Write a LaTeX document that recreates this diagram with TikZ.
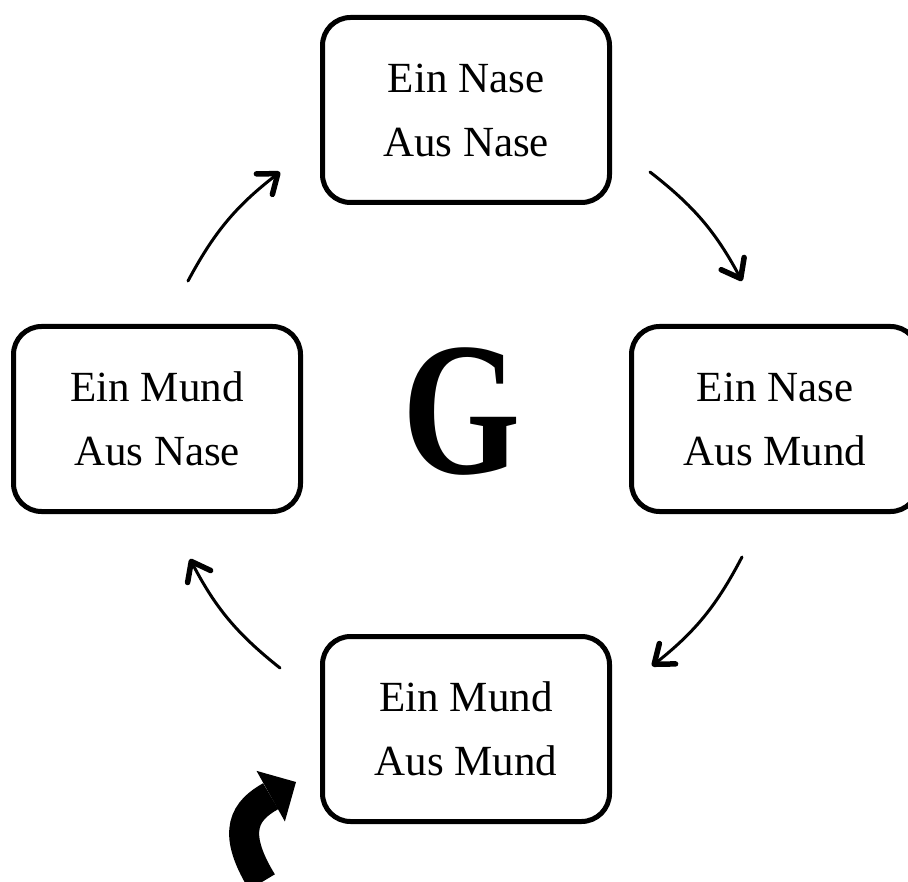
\documentclass[tikz,border=0pt]{standalone}
\usepackage{fontspec}
\setmainfont{Liberation Serif}
\usetikzlibrary{arrows.meta}
\definecolor{gzink}{HTML}{000000}
\tikzset{
  gzbox/.style={draw=gzink, fill=white, line width=5pt, rounded corners=28pt,
                minimum width=287pt, minimum height=185pt, align=center,
                font=\fontsize{43}{64}\selectfont},
  gzflow/.style={draw=gzink, line width=3pt, line cap=round,
                 -{Straight Barb[length=17pt,width=26pt,line width=5.5pt,round]}},
  gzkick/.style={draw=gzink, line width=30pt,
                 -{Triangle[length=29pt,width=58pt,line width=0pt]}},
  gzmark/.style={inner sep=0pt, font=\fontsize{190}{190}\selectfont\bfseries},
}
\begin{document}
\begin{tikzpicture}[x=1pt,y=-1pt]
  \useasboundingbox (0,0) rectangle (908,882);
  \foreach \name/\px/\py/\ein/\aus in {nasenase/466/110/Nase/Nase,
      nasemund/775/419/Nase/Mund, mundmund/466/729/Mund/Mund,
      mundnase/157/419/Mund/Nase}
    {\node[gzbox] (\name) at (\px,\py) {Ein \ein\\Aus \aus};}
  \node[gzmark] (gee) at (462,412) {\scalebox{0.8}[1]{G}};
  % breathing cycle, clockwise
  \draw[gzflow] ([shift={(31,-43)}]mundnase.north) to[bend left=12]
    ([shift={(-40,-33)}]nasenase.south west);
  \draw[gzflow] ([shift={(38,-33)}]nasenase.south east) to[bend left=12]
    ([shift={(-33,-43)}]nasemund.north);
  \draw[gzflow] ([shift={(-33,43)}]nasemund.south) to[bend left=12]
    ([shift={(40,32)}]mundmund.north east);
  \draw[gzflow] ([shift={(-40,34)}]mundmund.north west) to[bend left=12]
    ([shift={(33,45)}]mundnase.south);
  % start here
  \coordinate (kicktail) at (262,882);
  \coordinate (kicktip) at (296,782);
  \draw[gzkick] (kicktail) .. controls (230,830) and (246,810) .. (kicktip);
\end{tikzpicture}
\end{document}
